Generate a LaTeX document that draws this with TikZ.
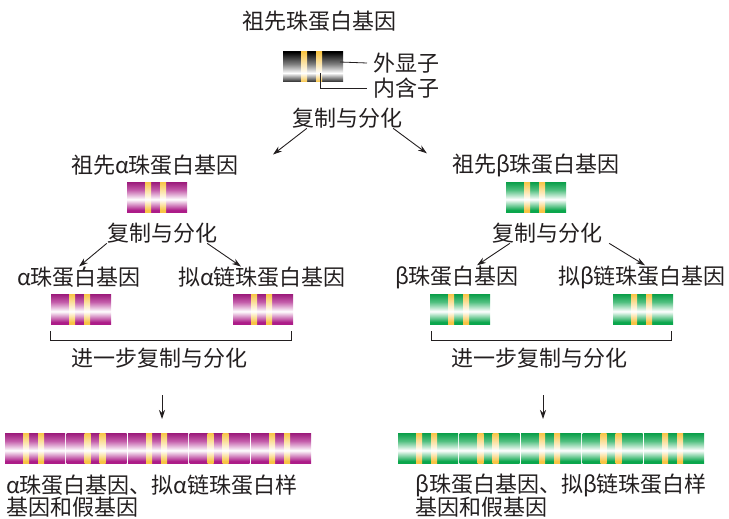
\documentclass[tikz,border=0pt]{standalone}
\usepackage{fontspec}
\usepackage{tikz}
\usetikzlibrary{arrows.meta}
\newfontfamily\cjk{Noto Sans CJK SC}
\definecolor{genemag}{RGB}{172,28,136}
\definecolor{genegrn}{RGB}{10,166,76}
\definecolor{geneyel}{RGB}{247,196,70}
\definecolor{txt}{RGB}{35,31,32}
\pgfdeclareverticalshading{graybar}{100bp}{color(0bp)=(black!85); color(25bp)=(black!85); color(40bp)=(white); color(55bp)=(black!50); color(75bp)=(black); color(100bp)=(black)}
\pgfdeclareverticalshading{magbar}{100bp}{color(0bp)=(genemag); color(28bp)=(genemag); color(46bp)=(white); color(62bp)=(genemag!72); color(75bp)=(genemag!90!black); color(100bp)=(genemag!90!black)}
\pgfdeclareverticalshading{grnbar}{100bp}{color(0bp)=(genegrn); color(28bp)=(genegrn); color(46bp)=(white); color(62bp)=(genegrn!72); color(75bp)=(genegrn!95!black); color(100bp)=(genegrn!95!black)}
\pgfdeclareverticalshading{yelbar}{100bp}{color(0bp)=(geneyel); color(28bp)=(geneyel); color(46bp)=(white); color(75bp)=(geneyel); color(100bp)=(geneyel)}
\pgfdeclareverticalshading{yelgray}{100bp}{color(0bp)=(geneyel); color(25bp)=(geneyel); color(40bp)=(white); color(75bp)=(geneyel); color(100bp)=(geneyel)}
\newcommand{\genebar}[4]{%
  \shade[shading=#3] (#1,#2) rectangle ++(60,30);
  \shade[shading=#4] ({#1+18},#2) rectangle ++(6,30);
  \shade[shading=#4] ({#1+33},#2) rectangle ++(6,30);
}

\begin{document}
\begin{tikzpicture}[x=1pt,y=-1pt]
\tikzstyle{every node}+=[inner sep=0pt,font=\cjk\fontsize{22}{26}\selectfont,text=txt]
\tikzstyle{arr}=[-{Stealth[length=9pt,width=6pt]},line width=0.9pt,draw=txt]
\tikzstyle{thin}=[line width=0.8pt,draw=txt]
\useasboundingbox (0,0) rectangle (729,519);
\node (anc) at (319,21) {祖先珠蛋白基因};
\genebar{283}{52}{graybar}{yelgray}
\node[anchor=west] (exon) at (373,63) {外显子};
\node[anchor=west] (intron) at (373,88) {内含子};
\coordinate (exonpt) at (340,62);
\coordinate (intronpt) at (320,73);
\draw[thin] (exonpt) -- ([xshift=-6pt]exon.west);
\draw[thin] (intronpt) |- ([xshift=-6pt]intron.west);
\node (split) at (347,118) {复制与分化};
\node (anca) at (155,165) {祖先α珠蛋白基因};
\node (ancb) at (536,165) {祖先β珠蛋白基因};
\draw[arr] ([xshift=15pt]split.south west) -- ([xshift=34pt]anca.north east);
\draw[arr] ([xshift=-9pt]split.south east) -- ([xshift=-25pt]ancb.north west);
\genebar{127}{182}{magbar}{yelbar}
\node (splita) at (162,233) {复制与分化};
\node (ga) at (79,277) {α珠蛋白基因};
\node (pga) at (262,277) {拟α链珠蛋白基因};
\draw[arr] (splita.south west) -- (ga.north);
\draw[arr] ([xshift=-10pt]splita.south east) -- ([xshift=-21pt]pga.north);
\genebar{51}{294}{magbar}{yelbar}
\genebar{233}{294}{magbar}{yelbar}
\draw[thin] (50,331) -- (50,340) -- (291,340) -- (291,331);
\node (morea) at (159,358) {进一步复制与分化};
\coordinate (downa) at (162,395);
\coordinate (rowa) at (162,419);
\draw[arr] (downa) -- (rowa);
\foreach \k in {0,...,4} {\genebar{5+61.5*\k}{433}{magbar}{yelbar}}
\node[anchor=west] (resa1) at (6,485) {α珠蛋白基因、拟α链珠蛋白样};
\node[anchor=west] (resa2) at (6,507) {基因和假基因};
\genebar{506}{182}{grnbar}{yelbar}
\node (splitb) at (547,233) {复制与分化};
\node (gb) at (457,277) {β珠蛋白基因};
\node (pgb) at (642,277) {拟β链珠蛋白基因};
\draw[arr] ([xshift=18pt]splitb.south west) -- ([xshift=20pt]gb.north);
\draw[arr] ([xshift=7pt]splitb.south east) -- ([xshift=3pt]pgb.north);
\genebar{430}{294}{grnbar}{yelbar}
\genebar{613}{294}{grnbar}{yelbar}
\draw[thin] (431,331) -- (431,340) -- (671,340) -- (671,331);
\node (moreb) at (539,358) {进一步复制与分化};
\coordinate (downb) at (543,395);
\coordinate (rowb) at (543,419);
\draw[arr] (downb) -- (rowb);
\foreach \k in {0,...,4} {\genebar{398+61.5*\k}{433}{grnbar}{yelbar}}
\node[anchor=west] (resb1) at (415,485) {β珠蛋白基因、拟β链珠蛋白样};
\node[anchor=west] (resb2) at (415,507) {基因和假基因};
\end{tikzpicture}
\end{document}
